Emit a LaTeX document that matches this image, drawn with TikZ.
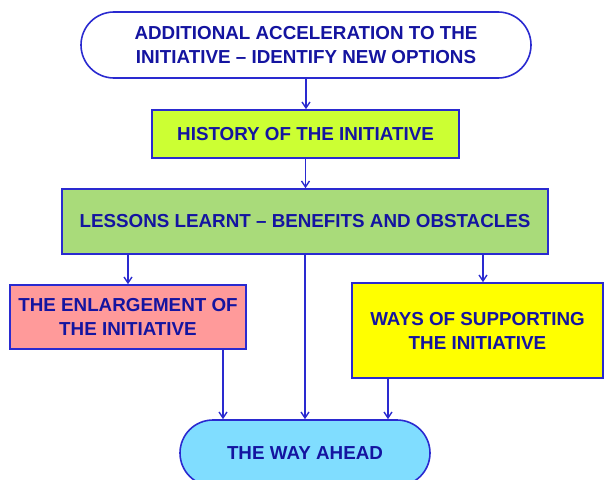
\documentclass[tikz,border=0pt]{standalone}
\usepackage{fontspec}
\setmainfont{Liberation Sans}
\usetikzlibrary{arrows.meta}
\definecolor{txt}{HTML}{1414A0}
\definecolor{ln}{HTML}{2A2AD0}
\definecolor{lime}{HTML}{CCFF33}
\definecolor{lgreen}{HTML}{A9DB7A}
\definecolor{pinkf}{HTML}{FF9A9A}
\definecolor{yel}{HTML}{FFFF00}
\definecolor{sky}{HTML}{80DDFF}
\tikzset{
  box/.style={draw=ln, line width=1.6pt, text=txt, font=\fontsize{18.8}{24}\selectfont\bfseries, align=center, inner sep=0pt},
  conn/.style={draw=ln, line width=1.4pt},
  arr/.style={conn, -{Straight Barb[length=6pt,width=8pt,line width=1.4pt]}},
}
\begin{document}
\begin{tikzpicture}[x=1pt,y=-1pt]
\useasboundingbox (0,0) rectangle (604,479);
\node[box, fill=white, minimum width=450pt, minimum height=66pt, rounded corners=33pt] (top) at (306,45) {ADDITIONAL ACCELERATION TO THE\\INITIATIVE -- IDENTIFY NEW OPTIONS};
\node[box, fill=lime, minimum width=307pt, minimum height=48pt] (hist) at (305.5,134) {HISTORY OF THE INITIATIVE};
\node[box, fill=lgreen, minimum width=486pt, minimum height=65pt] (less) at (305,221.5) {LESSONS LEARNT -- BENEFITS AND OBSTACLES};
\node[box, fill=pinkf, minimum width=236pt, minimum height=64pt] (enl) at (128,317) {THE ENLARGEMENT OF\\THE INITIATIVE};
\node[box, fill=yel, minimum width=251pt, minimum height=95pt] (ways) at (477.5,330.5) {WAYS OF SUPPORTING\\THE INITIATIVE};
\node[box, fill=sky, minimum width=250pt, minimum height=66pt, rounded corners=33pt] (way) at (305,453) {THE WAY AHEAD};
\draw[arr] (top.south) -- (top.south |- hist.north);
\draw[arr] (hist.south) -- (hist.south |- less.north);
\draw[arr] (less.south -| enl.north) -- (enl.north);
\draw[arr] ([xshift=5.5pt]less.south -| ways.north) -- ([xshift=5.5pt]ways.north);
\draw[arr] (less.south) -- (less.south |- way.north);
\draw[arr] (enl.south -| 223,0) -- (way.north -| 223,0);
\draw[arr] (ways.south -| 388,0) -- (way.north -| 388,0);
\end{tikzpicture}
\end{document}
